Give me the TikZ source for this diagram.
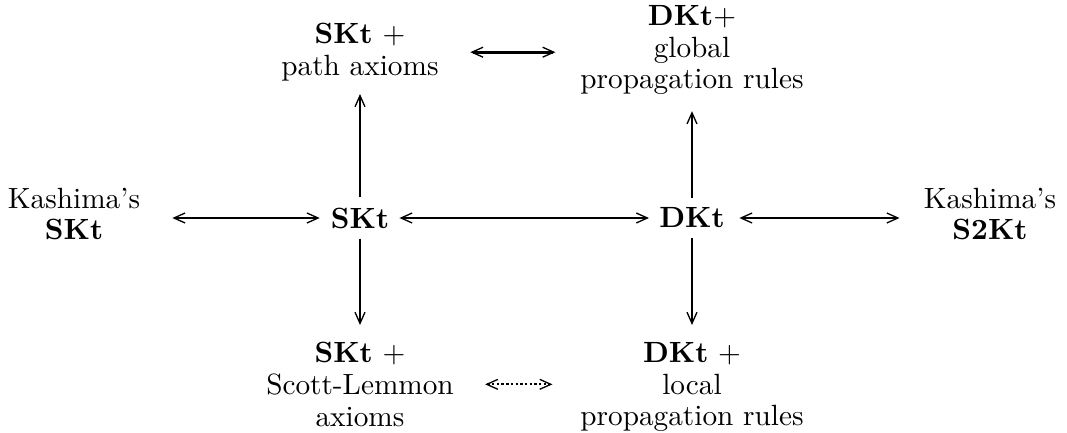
\documentclass[tikz,border=0pt]{standalone}
\usetikzlibrary{arrows.meta}
\begin{document}
\begin{tikzpicture}[x=0.3415pt,y=-0.3415pt,
  >={Straight Barb[length=3.8pt,width=3.4pt,line width=0.45pt]},
  lbl/.style={align=center,font=\fontsize{10}{10.8}\selectfont},
  hline/.style={<->,line width=0.6pt},
  vline/.style={->,line width=0.9pt},
  topline/.style={<->,line width=1.1pt},
  dotline/.style={<->,line width=0.6pt,dash pattern=on 0.8pt off 0.8pt}]
\useasboundingbox (0,0) rectangle (1067,433);
% nodes
\node[lbl] (ks)  at (74,214)  {Kashima's\\\textbf{SKt}};
\node[lbl] (skt) at (360,218) {\textbf{SKt}};
\node[lbl] (dkt) at (692,218) {\textbf{DKt}};
\node[lbl] (ks2) at (990,214) {Kashima's\\\textbf{S2Kt}};
\node[lbl,anchor=north] (tl) at (360,13)  {\textbf{SKt} +\\path axioms};
\node[lbl,anchor=north] (tr) at (692,-5)  {\textbf{DKt}+\\global\\propagation rules};
\node[lbl,anchor=north] (bl) at (360,332) {\textbf{SKt} +\\Scott-Lemmon\\axioms};
\node[lbl,anchor=north] (br) at (692,332) {\textbf{DKt} +\\local\\propagation rules};
% middle row
\draw[hline,shorten <=7.5pt,shorten >=0.3pt] (ks.east |- skt.west) -- (skt.west);
\draw[hline] (skt.east) -- (dkt.west);
\draw[hline,shorten <=1.5pt,shorten >=4.8pt] (dkt.east) -- (ks2.west |- dkt.east);
% vertical
\draw[vline,shorten >=0.9pt] (skt.north) -- (tl.south);
\draw[vline,shorten >=2.1pt] (dkt.north) -- (tr.south);
\draw[vline,shorten >=2.4pt] (skt.south) -- (bl.north);
\draw[vline,shorten >=2.4pt] (dkt.south) -- (br.north);
% top and bottom
\draw[topline,shorten <=7.3pt,shorten >=5pt] (tl.east) -- (tl.east -| tr.west);
\draw[dotline,shorten <=7.2pt,shorten >=6pt] (bl.east) -- (bl.east -| br.west);
\end{tikzpicture}
\end{document}
